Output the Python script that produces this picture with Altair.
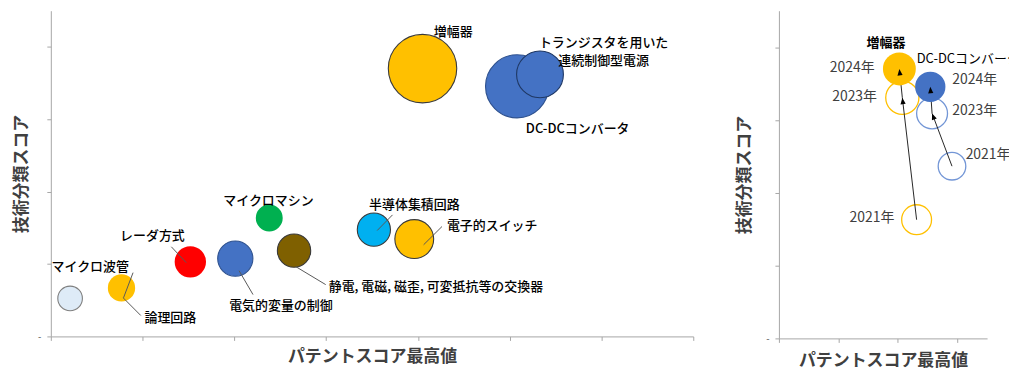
import math
import altair as alt
import pandas as pd

FONT = "Noto Sans CJK JP"

# ---------------- Left panel data ----------------
tech_names = ["マイクロ波管", "論理回路", "レーダ方式", "電気的変量の制御", "マイクロマシン",
              "静電, 電磁, 磁歪, 可変抵抗等の交換器", "増幅器", "DC-DCコンバータ",
              "トランジスタを用いた連続制御型電源", "半導体集積回路", "電子的スイッチ"]
patent_max = [0.21, 0.77, 1.52, 2.01, 2.38, 2.65, 4.05, 5.08, 5.33, 3.52, 3.96]
tech_score = [1.05, 1.34, 2.06, 2.15, 3.27, 2.37, 7.40, 6.91, 7.24, 2.95, 2.69]
bubble_val = [61, 75, 99, 125, 73, 112, 472, 401, 221, 111, 152]

# styles (palette per category)
fill_colors = ["#DEEBF7", "#FFC000", "#FF0000", "#4472C4", "#00B050", "#7F6000",
               "#FFC000", "#4472C4", "#4472C4", "#00B0F0", "#FFC000"]
stroke_colors = ["#7F7F7F", "#FFC000", "#FF2020", "#2F528F", "#00A048", "#3A3A3A",
                 "#3A3A3A", "#2F528F", "#1F3864", "#3A3A3A", "#3A3A3A"]

# label annotations (anchor in data units)
lab_text = ["マイクロ波管", "論理回路", "レーダ方式", "電気的変量の制御", "マイクロマシン",
            "静電, 電磁, 磁歪, 可変抵抗等の交換器", "増幅器", "トランジスタを用いた\n連続制御型電源",
            "DC-DCコンバータ", "半導体集積回路", "電子的スイッチ"]
lab_x = [0.429, 1.020, 1.107, 2.507, 2.371, 3.028, 4.385, 6.023, 5.741, 3.961, 4.316]
lab_y = [1.927, 0.495, 2.780, 0.853, 3.743, 1.376, 8.422, 8.096, 5.725, 3.633, 3.055]
lab_align = ["center", "left", "center", "center", "center", "left", "center",
             "center", "center", "center", "left"]

# leader lines (data units)
lead_x1 = [0.896, 0.789, 1.313, 2.051, 2.670, 3.556, 4.062]
lead_y1 = [1.762, 1.065, 2.477, 1.817, 1.927, 2.926, 2.532]
lead_x2 = [0.792, 0.980, 1.476, 2.203, 2.995, 3.723, 4.262]
lead_y2 = [1.065, 0.578, 2.037, 1.156, 1.431, 3.358, 3.036]

# ---------------- Right panel data ----------------
trend_series = ["増幅器", "増幅器", "増幅器", "DC-DCコンバータ", "DC-DCコンバータ", "DC-DCコンバータ"]
trend_year = ["2021年", "2023年", "2024年", "2021年", "2023年", "2024年"]
trend_x = [4.63, 4.15, 4.05, 5.82, 5.15, 5.09]
trend_y = [3.26, 6.61, 7.40, 4.73, 6.18, 6.91]
trend_val = [390, 481, 472, 333, 417, 401]

year_lab_x = [3.132, 2.545, 2.462, 7.033, 6.581, 6.581]
year_lab_y = [3.310, 6.620, 7.413, 5.033, 6.237, 7.085]

series_lab_text = ["増幅器", "DC-DCコンバータ"]
series_lab_x = [3.600, 4.632]
series_lab_y = [8.105, 7.679]

# ---------------- scales ----------------
LW, LH = 645, 327
RW, RH = 209, 329
x_left = alt.Scale(domain=[0, 7], nice=False, zero=False)
y_scale = alt.Scale(domain=[0, 9], nice=False, zero=False)
x_right = alt.Scale(domain=[0, 7], nice=False, zero=False)

title_kw = dict(titleFont=FONT, titleFontSize=17, titleFontWeight="bold", titleColor="#404040")


def y_axis(tpad):
    return alt.Axis(values=list(range(10)), labelExpr="datum.value == 0 ? '-' : ''",
                    labelFontSize=10, labelColor="#595959", labelPadding=6,
                    titlePadding=tpad, title="技術分類スコア", **title_kw)


def x_axis(vals, tpad):
    return alt.Axis(values=vals, labels=False, titlePadding=tpad,
                    title="パテントスコア最高値", **title_kw)


# ---------------- Left chart ----------------
bub = pd.DataFrame({"name": tech_names, "x": patent_max, "y": tech_score, "v": bubble_val,
                    "has_stroke": [1, 0, 0, 1, 0, 1, 1, 1, 1, 1, 1]})

points = alt.Chart(bub).mark_circle(opacity=1).encode(
    x=alt.X("x:Q", scale=x_left, axis=x_axis(list(range(8)), 8)),
    y=alt.Y("y:Q", scale=y_scale, axis=y_axis(7)),
    size=alt.Size("v:Q", scale=alt.Scale(domain=[0, 500], range=[0, 5000]), legend=None),
    color=alt.Color("name:N", scale=alt.Scale(domain=tech_names, range=fill_colors), legend=None),
    stroke=alt.Stroke("name:N", scale=alt.Scale(domain=tech_names, range=stroke_colors), legend=None),
    strokeWidth=alt.StrokeWidth("has_stroke:Q", scale=alt.Scale(domain=[0, 1], range=[0, 1.1]), legend=None),
)

leaders = alt.Chart(pd.DataFrame({"x": lead_x1, "y": lead_y1, "x2": lead_x2, "y2": lead_y2})).mark_rule(
    color="#595959", strokeWidth=1).encode(
    x=alt.X("x:Q", scale=x_left), y=alt.Y("y:Q", scale=y_scale), x2="x2:Q", y2="y2:Q")

labdf = pd.DataFrame({"t": lab_text, "x": lab_x, "y": lab_y, "a": lab_align})
label_layers = []
for al in ["center", "left"]:
    label_layers.append(
        alt.Chart(labdf[labdf.a == al]).mark_text(font=FONT, fontSize=13, fontWeight=500, color="#000000",
                                                  align=al, baseline="middle",
                                                  lineBreak="\n", lineHeight=18).encode(
            x=alt.X("x:Q", scale=x_left), y=alt.Y("y:Q", scale=y_scale), text="t:N"))

left = alt.layer(points, leaders, *label_layers).properties(width=LW, height=LH)

# ---------------- Right chart ----------------
tr = pd.DataFrame({"s": trend_series, "yr": trend_year, "x": trend_x, "y": trend_y, "v": trend_val,
                   "lx": year_lab_x, "ly": year_lab_y})
tr["latest"] = tr["yr"] == "2024年"
series_colors = ["#FFC000", "#4472C4"]
outline_colors = ["#FFC000", "#7396D6"]
rsize = alt.Scale(domain=[0, 500], range=[0, 1153])

open_b = alt.Chart(tr[~tr.latest]).mark_point(shape="circle", filled=False, strokeWidth=1.3, opacity=1).encode(
    x=alt.X("x:Q", scale=x_right, axis=x_axis([0, 2, 4, 6], 10)),
    y=alt.Y("y:Q", scale=y_scale, axis=y_axis(12)),
    size=alt.Size("v:Q", scale=rsize, legend=None),
    stroke=alt.Stroke("s:N", scale=alt.Scale(domain=series_lab_text, range=outline_colors), legend=None),
)
filled_b = alt.Chart(tr[tr.latest]).mark_circle(opacity=1).encode(
    x=alt.X("x:Q", scale=x_right), y=alt.Y("y:Q", scale=y_scale),
    size=alt.Size("v:Q", scale=rsize, legend=None),
    color=alt.Color("s:N", scale=alt.Scale(domain=series_lab_text, range=series_colors), legend=None),
)

# arrows between consecutive years of each series
px_x = RW / 7.0
px_y = RH / 9.0
rows = []
for s in series_lab_text:
    sub = tr[tr.s == s].reset_index(drop=True)
    for i in range(len(sub) - 1):
        x1, y1, x2, y2 = sub.x[i], sub.y[i], sub.x[i + 1], sub.y[i + 1]
        dx = (x2 - x1) * px_x
        dy = -(y2 - y1) * px_y
        ang = math.degrees(math.atan2(dx, -dy)) % 360
        rows.append({"x": x1, "y": y1, "x2": x2, "y2": y2, "ang": ang})
arr = pd.DataFrame(rows)
arrow_lines = alt.Chart(arr).mark_rule(color="#262626", strokeWidth=1).encode(
    x=alt.X("x:Q", scale=x_right), y=alt.Y("y:Q", scale=y_scale), x2="x2:Q", y2="y2:Q")
arrow_heads = alt.Chart(arr).mark_point(shape="M0,0L-0.8,2L0.8,2Z", filled=True, color="#000000",
                                        opacity=1, size=42).encode(
    x=alt.X("x2:Q", scale=x_right), y=alt.Y("y2:Q", scale=y_scale),
    angle=alt.Angle("ang:Q", scale=None))

year_labels = alt.Chart(tr).mark_text(font=FONT, fontSize=14, color="#404040", align="center",
                                      baseline="middle").encode(
    x=alt.X("lx:Q", scale=x_right), y=alt.Y("ly:Q", scale=y_scale), text="yr:N")

sl = pd.DataFrame({"t": series_lab_text, "x": series_lab_x, "y": series_lab_y})
series_labels = [
    alt.Chart(sl[sl.t == "増幅器"]).mark_text(font=FONT, fontSize=13, fontWeight="bold", color="#000000",
                                           align="center", baseline="middle").encode(
        x=alt.X("x:Q", scale=x_right), y=alt.Y("y:Q", scale=y_scale), text="t:N"),
    alt.Chart(sl[sl.t != "増幅器"]).mark_text(font=FONT, fontSize=13, color="#000000",
                                           align="left", baseline="middle").encode(
        x=alt.X("x:Q", scale=x_right), y=alt.Y("y:Q", scale=y_scale), text="t:N"),
]

right = alt.layer(open_b, arrow_lines, filled_b, arrow_heads, year_labels, *series_labels).properties(
    width=RW, height=RH)

chart = alt.hconcat(left, right, spacing=86, bounds="flush").resolve_scale(
    size="independent", color="independent", stroke="independent", strokeWidth="independent"
).properties(
    padding={"left": 4, "top": 2, "right": -11, "bottom": 0}
).configure_view(stroke=None).configure_axis(
    grid=False, domainColor="#A6A6A6", tickColor="#A6A6A6", tickSize=4, domainWidth=1, tickWidth=1
)

chart.save("out.html", embed_options={"renderer": "svg", "actions": False})
